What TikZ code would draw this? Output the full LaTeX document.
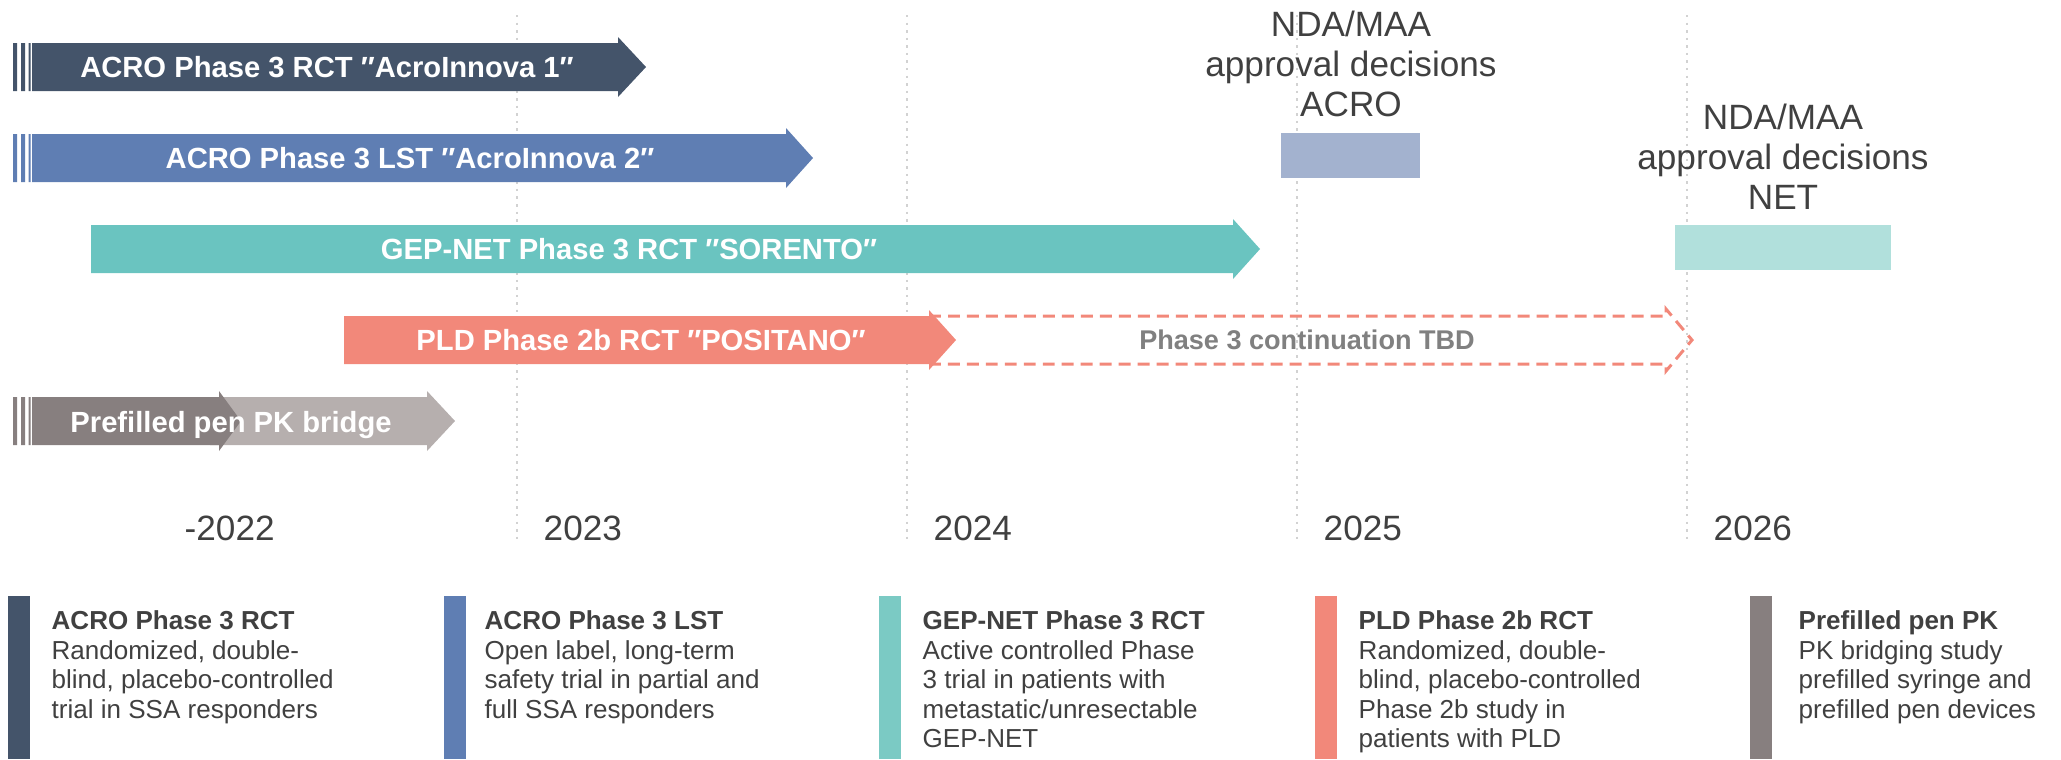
\documentclass[tikz,border=0pt]{standalone}
\usepackage{fontspec}
\setmainfont{Liberation Sans}
\definecolor{acrodark}{HTML}{44546A}
\definecolor{acroblue}{HTML}{5F7EB3}
\definecolor{netteal}{HTML}{6AC4C0}
\definecolor{legteal}{HTML}{7BCAC4}
\definecolor{pldsalmon}{HTML}{F2887A}
\definecolor{pendark}{HTML}{877F7F}
\definecolor{penlight}{HTML}{B6AFAE}
\definecolor{acrobox}{HTML}{A3B2CF}
\definecolor{netbox}{HTML}{B1E0DC}
\definecolor{gridgray}{HTML}{D2D2D2}
\definecolor{textgray}{HTML}{404040}
\definecolor{tbdgray}{HTML}{808080}
\begin{document}
\begin{tikzpicture}[x=0.01cm,y=-0.01cm,
  barlabel/.style={text=white,font=\bfseries\fontsize{8.3}{10}\selectfont,inner sep=0,anchor=base},
  yearline/.style={gridgray,line width=0.7pt,dash pattern=on 0.7pt off 1.45pt},
  yearlabel/.style={text=textgray,font=\fontsize{10}{12}\selectfont,inner sep=0,anchor=base west},
  ndatext/.style={text=textgray,font=\fontsize{10}{11.4}\selectfont,inner sep=0,align=center,anchor=north},
  legtext/.style={text=textgray,font=\fontsize{7.4}{8.4}\selectfont,inner sep=0,align=left,anchor=north west}]
\useasboundingbox (0,0) rectangle (2061,759);
% year grid
\foreach \x/\yr in {517/2023,907/2024,1297/2025,1687/2026}{
\draw[yearline] (\x,15) -- (\x,541);
\node[yearlabel] (y\yr) at (\x+26,540) {\yr};
}
\node[yearlabel] (y2022) at (184,540) {-2022};
% start marks
\foreach \yc/\c in {67/acrodark,158/acroblue,421/pendark}
\fill[\c] (13,\yc-24) rectangle (17,\yc+24) (21,\yc-24) rectangle (25,\yc+24) (28.5,\yc-24) rectangle (30.5,\yc+24);
% study arrows
\fill[acrodark] (32,43) -- (618,43) -- (618,37) -- (646,67) -- (618,97) -- (618,91) -- (32,91) -- cycle;
\node[barlabel] (acro1) at (327,77.5) {ACRO Phase 3 RCT ″AcroInnova 1″};
\fill[acroblue] (32,134) -- (786,134) -- (786,128) -- (813,158) -- (786,188) -- (786,182) -- (32,182) -- cycle;
\node[barlabel] (acro2) at (410,168.5) {ACRO Phase 3 LST ″AcroInnova 2″};
\fill[netteal] (91,225) -- (1233,225) -- (1233,219) -- (1260,249) -- (1233,279) -- (1233,273) -- (91,273) -- cycle;
\node[barlabel] (sorento) at (629,259.5) {GEP-NET Phase 3 RCT ″SORENTO″};
\draw[pldsalmon,line width=0.85pt,dash pattern=on 3.4pt off 2pt] (929,316) -- (1666,316) -- (1666,309) -- (1692,340) -- (1666,371) -- (1666,364) -- (929,364);
\node[font=\bfseries\fontsize{7.7}{9}\selectfont,text=tbdgray,inner sep=0,anchor=base] (tbd) at (1307,349) {Phase 3 continuation TBD};
\fill[pldsalmon] (344,316) -- (929,316) -- (929,310) -- (956,340) -- (929,370) -- (929,364) -- (344,364) -- cycle;
\node[barlabel] (positano) at (641,350.5) {PLD Phase 2b RCT ″POSITANO″};
\fill[penlight] (210,397) -- (427,397) -- (427,391) -- (455,421) -- (427,451) -- (427,445) -- (210,445) -- cycle;
\fill[pendark] (32,397) -- (219,397) -- (219,391) -- (241,421) -- (219,451) -- (219,445) -- (32,445) -- cycle;
\node[barlabel] (pen) at (231,432) {Prefilled pen PK bridge};
% approval decisions
\fill[acrobox] (1281,133) rectangle (1420,178);
\node[ndatext] (ndaacro) at (1351,10) {NDA/MAA\\approval decisions\\ACRO};
\fill[netbox] (1675,225) rectangle (1891,270);
\node[ndatext] (ndanet) at (1783,103) {NDA/MAA\\approval decisions\\NET};
% legend
\foreach \c [count=\i from 0] in {acrodark,acroblue,legteal,pldsalmon,pendark}
\fill[\c] ({8+435.6*\i},596) rectangle ++(22,163);
\node[legtext] (legrct) at (51,610) {\textbf{ACRO Phase 3 RCT}\\Randomized, double-\\blind, placebo-controlled\\trial in SSA responders};
\node[legtext] (leglst) at (484,610) {\textbf{ACRO Phase 3 LST}\\Open label, long-term\\safety trial in partial and\\full SSA responders};
\node[legtext] (legnet) at (922,610) {\textbf{GEP-NET Phase 3 RCT}\\Active controlled Phase\\3 trial in patients with\\metastatic/unresectable\\GEP-NET};
\node[legtext] (legpld) at (1358,610) {\textbf{PLD Phase 2b RCT}\\Randomized, double-\\blind, placebo-controlled\\Phase 2b study in\\patients with PLD};
\node[legtext] (legpen) at (1798,610) {\textbf{Prefilled pen PK}\\PK bridging study\\prefilled syringe and\\prefilled pen devices};
\end{tikzpicture}
\end{document}
